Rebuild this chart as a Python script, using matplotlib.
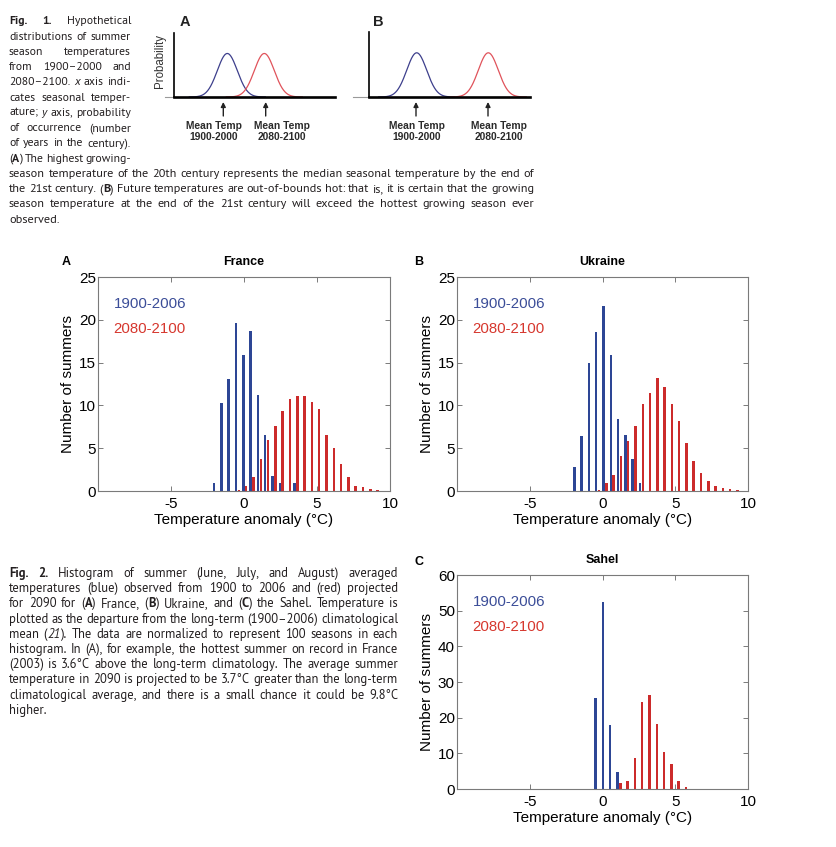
import re
import numpy as np
import matplotlib
matplotlib.use('Agg')
import matplotlib.pyplot as plt
from matplotlib import font_manager as fm

# ---------------- data ----------------
# Fig. 1 schematic: hypothetical distributions (mean, sd, peak height)
fig1a_means = [5.33, 9.03]
fig1b_means = [4.77, 11.93]
fig1_sd = [1.0, 1.0]
fig1_peak = [0.68, 0.68]
fig1a_arrows = [4.93, 9.17]
fig1b_arrows = [4.70, 11.90]
fig1_labels = [("Mean Temp", "1900-2000"), ("Mean Temp", "2080-2100")]

series_labels = ["1900-2006", "2080-2100"]

france_bins = [-1.95, -1.45, -0.95, -0.45, 0.05, 0.55, 1.05, 1.55, 2.05, 2.55, 3.05, 3.55,
               4.05, 4.55, 5.05, 5.55, 6.05, 6.55, 7.05, 7.55, 8.05, 8.55, 9.05]
france_obs = [0.9, 10.3, 13.1, 19.6, 15.9, 18.7, 11.2, 6.5, 1.8, 0.9, 0, 0.9,
              0, 0, 0, 0, 0, 0, 0, 0, 0, 0, 0]
france_proj = [0, 0, 0, 0.15, 0.55, 1.6, 3.75, 6.0, 7.65, 9.4, 10.75, 11.1,
               11.15, 10.4, 9.6, 6.6, 5.05, 3.1, 1.6, 0.6, 0.45, 0.25, 0.1]

ukraine_bins = [-1.83, -1.33, -0.83, -0.33, 0.17, 0.67, 1.17, 1.67, 2.17, 2.67, 3.17, 3.67,
                4.17, 4.67, 5.17, 5.67, 6.17, 6.67, 7.17, 7.67, 8.17, 8.67, 9.17]
ukraine_obs = [2.75, 6.45, 15.0, 18.6, 21.6, 15.9, 8.4, 6.5, 3.75, 0.9, 0, 0,
               0, 0, 0, 0, 0, 0, 0, 0, 0, 0, 0]
ukraine_proj = [0, 0, 0, 0.1, 0.9, 1.85, 4.1, 5.85, 7.55, 10.2, 11.4, 13.2,
                12.2, 10.15, 8.15, 5.65, 3.5, 2.05, 1.2, 0.6, 0.4, 0.2, 0.15]

sahel_bins = [-0.37, 0.13, 0.63, 1.13, 1.63, 2.13, 2.63, 3.13, 3.63, 4.13, 4.63, 5.13, 5.63]
sahel_obs = [25.4, 52.5, 17.9, 4.8, 0, 0, 0, 0, 0, 0, 0, 0, 0]
sahel_proj = [0, 0, 0, 1.6, 2.24, 8.6, 24.3, 26.3, 18.1, 10.5, 6.9, 2.3, 0.5]

x_ticks = [-5, 0, 5, 10]
fr_uk_yticks = [0, 5, 10, 15, 20, 25]
sahel_yticks = [0, 10, 20, 30, 40, 50, 60]

fig1_caption = [
    "**Fig.** **1.** Hypothetical",
    "distributions of summer",
    "season temperatures",
    "from 1900–2000 and",
    "2080–2100. _x_ axis indi-",
    "cates seasonal temper-",
    "ature; _y_ axis, probability",
    "of occurrence (number",
    "of years in the century).",
    "(**A**) The highest growing-",
    "season temperature of the 20th century represents the median seasonal temperature by the end of",
    "the 21st century. (**B**) Future temperatures are out-of-bounds hot: that is, it is certain that the growing",
    "season temperature at the end of the 21st century will exceed the hottest growing season ever",
    "observed.",
]
fig2_caption = [
    "**Fig.** **2.** Histogram of summer (June, July, and August) averaged",
    "temperatures (blue) observed from 1900 to 2006 and (red) projected",
    "for 2090 for (**A**) France, (**B**) Ukraine, and (**C**) the Sahel. Temperature is",
    "plotted as the departure from the long-term (1900–2006) climatological",
    "mean (_21_). The data are normalized to represent 100 seasons in each",
    "histogram. In (A), for example, the hottest summer on record in France",
    "(2003) is 3.6°C above the long-term climatology. The average summer",
    "temperature in 2090 is projected to be 3.7°C greater than the long-term",
    "climatological average, and there is a small chance it could be 9.8°C",
    "higher.",
]

# ---------------- style ----------------
BLUE_BAR = '#2d4695'
RED_BAR = '#cc2b2b'
BLUE_TXT = '#3b4d98'
RED_TXT = '#d6372e'
CURVE_BLUE = '#3d3f8c'
CURVE_RED = '#e0535b'
TEXT_COL = '#231f20'

def pick(fams):
    for f in fams:
        try:
            fm.findfont(fm.FontProperties(family=f), fallback_to_default=False)
            return f
        except Exception:
            pass
    return 'DejaVu Sans'

CAP_FONT = pick(['PT Sans', 'Lato', 'Noto Sans'])
CHART_FONT = pick(['Liberation Sans', 'Arimo', 'DejaVu Sans'])
plt.rcParams['axes.unicode_minus'] = False
plt.rcParams['font.family'] = [CHART_FONT, 'DejaVu Sans']

W, H = 836, 847
fig = plt.figure(figsize=(W / 100, H / 100), dpi=100)
fig.patch.set_facecolor('white')
renderer = fig.canvas.get_renderer()

def fx(x):
    return x / W

def fy(y):
    return 1 - y / H

def add_axes_px(l, t, r, b):
    return fig.add_axes([l / W, 1 - b / H, (r - l) / W, (b - t) / H])

# ---------------- justified caption text ----------------
def parse_word(w):
    segs = []
    for part in re.split(r'(\*\*[^*]+\*\*|_[^_]+_)', w):
        if not part:
            continue
        if part.startswith('**') and part.endswith('**') and len(part) > 4:
            segs.append((part[2:-2], 'bold', 'normal'))
        elif part.startswith('_') and part.endswith('_') and len(part) > 2:
            segs.append((part[1:-1], 'normal', 'italic'))
        else:
            segs.append((part, 'normal', 'normal'))
    return segs

def measure(txt, size, weight='normal', style='normal', family=CAP_FONT):
    t = fig.text(0, 0, txt, fontsize=size, fontweight=weight, fontstyle=style, family=family)
    w = t.get_window_extent(renderer).width
    t.remove()
    return w

def space_w(size, family):
    return measure('n n', size, family=family) - measure('nn', size, family=family)

def words_width(line, size, family):
    words = [parse_word(w) for w in line.split(' ')]
    tot = sum(measure(s, size, wt, st, family) for segs in words for (s, wt, st) in segs)
    return tot, len(words) - 1

def fit_scale(line, x0, x1, size, family, min_sp=0.8):
    tot, n = words_width(line, size, family)
    return (x1 - x0) / (tot + n * space_w(size, family) * min_sp)

def natural_scale(line, x0, x1, size, family):
    tot, n = words_width(line, size, family)
    return (x1 - x0) / (tot + n * space_w(size, family))

def draw_line(line, x0, x1, yb, fs, family, justify):
    sp = space_w(fs, family)
    words = [parse_word(w) for w in line.split(' ')]
    objs, widths = [], []
    for segs in words:
        wo, ww = [], 0
        for (s, wt, st) in segs:
            t = fig.text(0, 0, s, fontsize=fs, fontweight=wt, fontstyle=st,
                         family=family, color=TEXT_COL, va='baseline', ha='left')
            w = t.get_window_extent(renderer).width
            wo.append((t, w))
            ww += w
        objs.append(wo)
        widths.append(ww)
    n = len(words) - 1
    gap = (x1 - x0 - sum(widths)) / n if (justify and n > 0) else sp
    x = x0
    for wo, ww in zip(objs, widths):
        xx = x
        for t, w in wo:
            t.set_position((fx(xx), fy(yb)))
            xx += w
        x += ww + gap

def block_size(lines, x0, x1, base=10.0):
    # font size giving natural word spacing on the typical justified line
    nat = sorted(natural_scale(l, x0, x1, base, CAP_FONT) for l in lines)
    fit = min(fit_scale(l, x0, x1, base, CAP_FONT) for l in lines)
    return base * min(nat[len(nat) // 2] * 0.985, fit)

# Fig. 1 caption
full1 = fig1_caption[10:13]
fs1 = block_size(full1, 9, 534)
col1 = fig1_caption[:10]
sc_col = min(fit_scale(l, 9, 131, fs1, CAP_FONT, min_sp=0.6) for l in col1)
col_fs = fs1 * min(1.0, sc_col)
for i, line in enumerate(fig1_caption):
    yb = 20.3 + i * 15.25 + 4
    if i < 10:
        draw_line(line, 9, 131, yb, col_fs, CAP_FONT, True)
    else:
        draw_line(line, 9, 534, yb, fs1, CAP_FONT, i < 13)

# Fig. 2 caption
fs2 = block_size(fig2_caption[:9], 9, 398)
for i, line in enumerate(fig2_caption):
    draw_line(line, 9, 398, 573 + i * 15.2 + 4, fs2, CAP_FONT, i < 9)

# ---------------- Fig. 1 schematics ----------------
def schematic(l, t, r, b, means, arrows, label_x, letter_x, gray_left, ylabel):
    ax = add_axes_px(l, t, r, b)
    ax.set_xlim(0, (r - l) / 10)
    ax.set_ylim(0, 1)
    for s in ['top', 'right']:
        ax.spines[s].set_visible(False)
    ax.spines['left'].set_linewidth(1.2)
    ax.spines['bottom'].set_linewidth(1.9)
    ax.spines['left'].set_color('black')
    ax.spines['bottom'].set_color('black')
    ax.set_xticks([])
    ax.set_yticks([])
    ax.patch.set_alpha(0)
    for m, sd, pk, col in zip(means, fig1_sd, fig1_peak, [CURVE_BLUE, CURVE_RED]):
        xs = np.linspace(m - 3.8 * sd, m + 3.8 * sd, 200)
        ax.plot(xs, pk * np.exp(-0.5 * ((xs - m) / sd) ** 2), color=col, lw=0.9,
                clip_on=False, zorder=1)
    ax.plot([-(l - gray_left) / 10, 0], [0.003, 0.003], color='#9a9a9a', lw=0.8,
            clip_on=False)
    for a in arrows:
        xa = l + a * 10
        ax.annotate('', xy=(xa, H - 102), xytext=(xa, H - 116),
                    xycoords='figure pixels', textcoords='figure pixels',
                    arrowprops=dict(arrowstyle='-|>', color='#222222', lw=1.0,
                                    mutation_scale=7, shrinkA=0, shrinkB=0))
    for (l1, l2), xc in zip(fig1_labels, label_x):
        fig.text(fx(xc), fy(126), l1, ha='center', va='center', fontsize=7.4,
                 fontweight='bold', color='#2a2a2a')
        fig.text(fx(xc), fy(137.3), l2, ha='center', va='center', fontsize=7.4,
                 fontweight='bold', color='#2a2a2a')
    fig.text(fx(letter_x[0]), fy(21.7), letter_x[1], ha='center', va='center',
             fontsize=10.5, fontweight='bold', color='#222222')
    if ylabel:
        fig.text(fx(160), fy(61), 'Probability', rotation=90, ha='center', va='center',
                 fontsize=8.3, color='#333333')
    return ax

schematic(174, 33, 335, 97, fig1a_means, fig1a_arrows, [213.7, 281.7], (185, 'A'), 165, True)
schematic(369, 32, 530, 97, fig1b_means, fig1b_arrows, [416.7, 499.0], (378.5, 'B'), 353, False)

# ---------------- Fig. 2 histograms ----------------
def hist_panel(l, t, r, b, bins, obs, proj, yticks, ymax, title, letter, letter_pos):
    ax = add_axes_px(l, t, r, b)
    bins = np.asarray(bins)
    ax.bar(bins - 0.1, obs, width=0.17, color=BLUE_BAR, linewidth=0, zorder=2)
    ax.bar(bins + 0.1, proj, width=0.17, color=RED_BAR, linewidth=0, zorder=2)
    ax.set_xlim(-10, 10)
    ax.set_ylim(0, ymax)
    ax.set_xticks(x_ticks)
    ax.set_yticks(yticks)
    for s in ax.spines.values():
        s.set_color('#7a7a7a')
        s.set_linewidth(0.8)
    ax.tick_params(direction='in', length=3.5, width=0.7, color='#7a7a7a',
                   top=True, right=True, labelsize=11, labelcolor='black')
    ax.tick_params(axis='x', pad=4)
    ax.tick_params(axis='y', pad=1.5)
    ax.set_xlabel('Temperature anomaly (°C)', fontsize=11)
    ax.xaxis.set_label_coords(0.5, -0.105)
    ax.set_ylabel('Number of summers', fontsize=11)
    ax.yaxis.set_label_coords(-0.08, 0.5)
    ax.text(0.5, 1 + 15.3 / (b - t), title, transform=ax.transAxes, ha='center',
            va='center', fontsize=9, fontweight='bold')
    ax.text(0.053, 0.875, series_labels[0], transform=ax.transAxes, ha='left',
            va='center', fontsize=10.8, color=BLUE_TXT)
    ax.text(0.053, 0.758, series_labels[1], transform=ax.transAxes, ha='left',
            va='center', fontsize=10.8, color=RED_TXT)
    fig.text(fx(letter_pos[0]), fy(letter_pos[1]), letter, ha='center', va='center',
             fontsize=9, fontweight='bold')
    return ax

hist_panel(98, 277, 390, 491, france_bins, france_obs, france_proj, fr_uk_yticks, 25,
           'France', 'A', (66, 262))
hist_panel(457, 277, 748, 491, ukraine_bins, ukraine_obs, ukraine_proj, fr_uk_yticks, 25,
           'Ukraine', 'B', (419, 262))
hist_panel(457, 575, 748, 789, sahel_bins, sahel_obs, sahel_proj, sahel_yticks, 60,
           'Sahel', 'C', (419, 562))

fig.savefig('out.png', dpi=100, facecolor='white')
